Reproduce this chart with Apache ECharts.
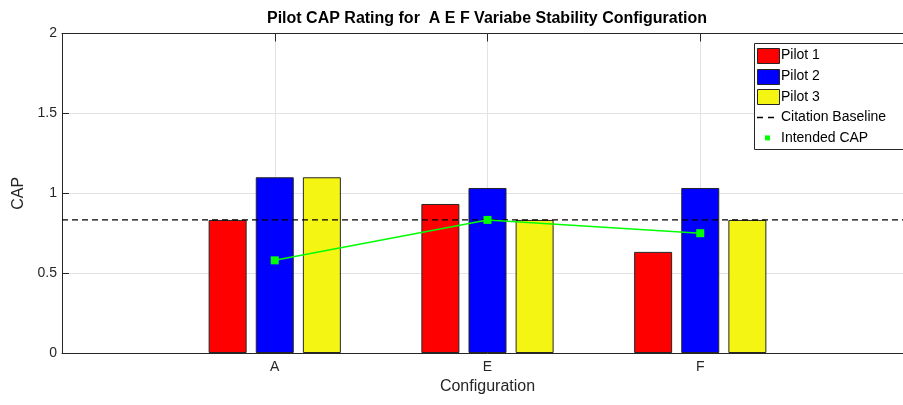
<!DOCTYPE html>
<html>
<head>
<meta charset="utf-8">
<script src="https://cdn.jsdelivr.net/npm/echarts@6/dist/echarts.min.js"></script>
<style>
html,body{margin:0;padding:0;background:#fff;overflow:hidden;width:903px;height:405px;}
#chart{width:913px;height:405px;}
</style>
</head>
<body>
<div id="chart"></div>
<script>
const configs = ['A', 'E', 'F'];
const pilot1 = [0.833, 0.933, 0.633];
const pilot2 = [1.1, 1.033, 1.033];
const pilot3 = [1.1, 0.833, 0.833];
const intendedCAP = [0.58, 0.833, 0.75];
const citationBaseline = 0.833;
const yTicks = [0, 0.5, 1, 1.5, 2];
const seriesNames = ['Pilot 1', 'Pilot 2', 'Pilot 3', 'Citation Baseline', 'Intended CAP'];
const barColors = ['#ff0000', '#0000ff', '#f5f514'];

const FONT = "'Liberation Sans', Arial, Helvetica, sans-serif";
const AX = '#262626';

const chart = echarts.init(document.getElementById('chart'), null, {renderer: 'canvas'});

function pairs(vals) { return vals.map((v, i) => [i + 1, v]); }

const barSeries = [pilot1, pilot2, pilot3].map((vals, k) => ({
  name: seriesNames[k],
  type: 'bar',
  data: pairs(vals),
  barWidth: 38,
  barGap: '24%',
  itemStyle: {color: barColors[k], borderColor: AX, borderWidth: 1},
  z: 2
}));

// legend (drawn as graphics)
const lgX = 754, lgY = 43, step = 20.6, firstY = 55.5;
const legendEls = [{
  type: 'rect', shape: {x: lgX + 0.5, y: lgY + 0.5, width: 170, height: 106},
  style: {fill: '#fff', stroke: AX, lineWidth: 1}, z: 100
}];
seriesNames.forEach((nm, i) => {
  const cy = firstY + i * step;
  if (i < 3) {
    legendEls.push({type: 'rect', shape: {x: 757.5, y: Math.round(cy - 7.5) + 0.5, width: 22, height: 15},
      style: {fill: barColors[i], stroke: AX, lineWidth: 1}, z: 101});
  } else if (i === 3) {
    legendEls.push({type: 'line', shape: {x1: 757, y1: Math.round(cy) + 0.5, x2: 775, y2: Math.round(cy) + 0.5},
      style: {stroke: '#000', lineWidth: 1.3, lineDash: [6, 5]}, z: 101});
  } else {
    legendEls.push({type: 'rect', shape: {x: 765, y: cy - 2.5, width: 5, height: 5},
      style: {fill: '#00ff00'}, z: 101});
  }
  legendEls.push({type: 'text', x: 781, y: cy,
    style: {text: nm, font: '14px ' + FONT, fill: '#000', textVerticalAlign: 'middle', verticalAlign: 'middle'}, z: 101});
});

const option = {
  backgroundColor: '#fff',
  animation: false,
  title: {
    text: 'Pilot CAP Rating for  A E F Variabe Stability Configuration',
    left: 487, top: 11, textAlign: 'center', padding: 0,
    textStyle: {fontFamily: FONT, fontSize: 16, fontWeight: 'bold', color: '#000'}
  },
  grid: {left: 62, top: 33.5, right: 0, bottom: 52, containLabel: false},
  xAxis: [{
    type: 'value', min: 0, max: 4, interval: 1, position: 'bottom',
    name: 'Configuration', nameLocation: 'middle', nameGap: 25,
    nameTextStyle: {fontFamily: FONT, fontSize: 16, color: AX},
    axisLine: {show: true, lineStyle: {color: AX, width: 1}},
    axisTick: {show: true, inside: true, length: 8, lineStyle: {color: AX},
      customValues: [1, 2, 3]},
    axisLabel: {fontFamily: FONT, fontSize: 14, color: AX, margin: 7,
      customValues: [1, 2, 3],
      formatter: v => configs[v - 1] || ''},
    splitLine: {show: true, lineStyle: {color: '#e3e3e3', width: 1}}
  }, {
    type: 'value', min: 0, max: 4, interval: 1, position: 'top',
    axisLine: {show: true, lineStyle: {color: AX, width: 1}},
    axisTick: {show: true, inside: true, length: 8, lineStyle: {color: AX}, customValues: [1, 2, 3]},
    axisLabel: {show: false},
    splitLine: {show: false}
  }],
  yAxis: [{
    type: 'value', min: yTicks[0], max: yTicks[yTicks.length - 1], interval: 0.5,
    name: 'CAP', nameLocation: 'middle', nameGap: 34, nameRotate: 90,
    nameTextStyle: {fontFamily: FONT, fontSize: 16, color: AX},
    axisLine: {show: true, lineStyle: {color: AX, width: 1}},
    axisTick: {show: true, inside: true, length: 7, lineStyle: {color: AX}},
    axisLabel: {fontFamily: FONT, fontSize: 14, color: AX, margin: 5},
    splitLine: {show: true, lineStyle: {color: '#e3e3e3', width: 1}}
  }],
  series: barSeries.concat([{
    name: seriesNames[3], type: 'line',
    data: [[0, citationBaseline], [4, citationBaseline]],
    symbol: 'none', lineStyle: {color: '#000', width: 1.3, type: [6, 4]}, z: 3, silent: true
  }, {
    name: seriesNames[4], type: 'line', data: pairs(intendedCAP),
    symbol: 'rect', symbolSize: 8,
    itemStyle: {color: '#00ff00'},
    lineStyle: {color: '#00ff00', width: 1.5}, z: 4
  }]),
  graphic: legendEls
};
chart.setOption(option);
</script>
</body>
</html>
